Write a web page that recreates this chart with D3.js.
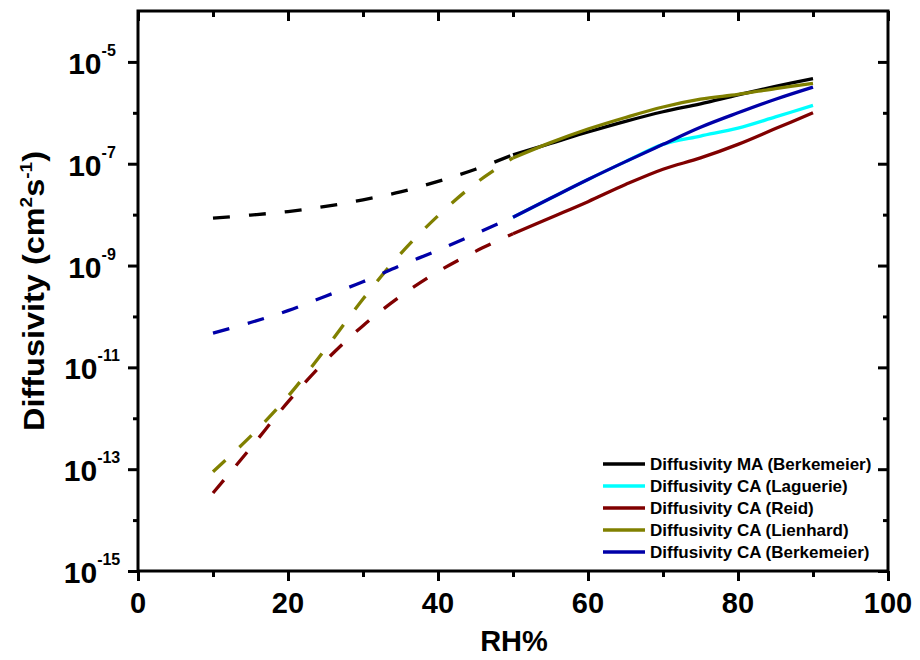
<!DOCTYPE html>
<html><head><meta charset="utf-8">
<script src="https://cdn.jsdelivr.net/npm/d3@7"></script>
<style>
body{margin:0;background:#fff;}
svg{display:block;font-family:"Liberation Sans",Arial,sans-serif;font-weight:bold;}
</style></head>
<body><svg id="c" width="920" height="660"></svg>
<script>
// ---- data ----
const rhDashed = [10,15,20,25,30,35,40,45,50];
const rhSolid  = [50,55,60,65,70,75,80,85,90];

const maBerkDashed = [8.5e-9,9.8e-9,1.15e-8,1.45e-8,1.95e-8,2.8e-8,4.5e-8,7.8e-8,1.5e-7];
const maBerkSolid  = [1.5e-7,2.5e-7,4.2e-7,6.8e-7,1.05e-6,1.5e-6,2.25e-6,3.3e-6,4.7e-6];

const caLaguerieSolid = [8.9e-9,2.1e-8,4.9e-8,1.1e-7,2.4e-7,3.5e-7,5.0e-7,8.3e-7,1.4e-6];

const caReidDashed = [3.4e-14,2.6e-13,2.1e-12,1.35e-11,6.6e-11,2.5e-10,7.6e-10,1.9e-9,4.2e-9];
const caReidSolid  = [4.2e-9,8.7e-9,1.8e-8,3.9e-8,7.8e-8,1.3e-7,2.4e-7,4.9e-7,1.0e-6];

const caLienhardDashed = [8.9e-14,4.4e-13,2.7e-12,2.3e-11,2.2e-10,1.7e-9,9.5e-9,4.1e-8,1.3e-7];
const caLienhardSolid  = [1.3e-7,2.6e-7,4.8e-7,8.1e-7,1.3e-6,1.85e-6,2.3e-6,3.0e-6,3.8e-6];

const caBerkDashed = [4.7e-11,7.6e-11,1.3e-10,2.5e-10,4.8e-10,1.0e-9,2.0e-9,4.2e-9,8.9e-9];
const caBerkSolid  = [8.9e-9,2.1e-8,4.9e-8,1.1e-7,2.4e-7,5.2e-7,1.0e-6,1.85e-6,3.2e-6];

const seriesNames = ["Diffusivity MA (Berkemeier)","Diffusivity CA (Laguerie)","Diffusivity CA (Reid)","Diffusivity CA (Lienhard)","Diffusivity CA (Berkemeier)"];
const seriesColors = ["#000000","#00ffff","#800000","#808000","#0000a8"];
const seriesDashed = [maBerkDashed,null,caReidDashed,caLienhardDashed,caBerkDashed];
const seriesSolid  = [maBerkSolid,caLaguerieSolid,caReidSolid,caLienhardSolid,caBerkSolid];

const xMajor = [0,20,40,60,80,100];
const xMinor = [10,30,50,70,90];
const yMajorExp = [-15,-13,-11,-9,-7,-5];
const yMinorExp = [-14,-12,-10,-8,-6];

// ---- layout ----
const L=138,R=888,T=11,B=571;
const svg=d3.select("#c");
const x=d3.scaleLinear().domain([0,100]).range([L,R]);
const y=d3.scaleLog().domain([1e-15,1e-4]).range([B,T]);

function styleAxis(g){
  g.select(".domain").remove();
  g.selectAll(".tick line").attr("stroke","#000").attr("stroke-width",3);
  g.selectAll(".tick text").remove();
}
svg.append("g").attr("transform",`translate(0,${B})`)
  .call(d3.axisBottom(x).tickValues(xMajor).tickSize(10).tickSizeOuter(0)).call(styleAxis);
svg.append("g").attr("transform",`translate(0,${B})`)
  .call(d3.axisBottom(x).tickValues(xMinor).tickSize(6).tickSizeOuter(0)).call(styleAxis);
svg.append("g").attr("transform",`translate(0,${T})`)
  .call(d3.axisTop(x).tickValues(xMajor).tickSize(-10).tickSizeOuter(0)).call(styleAxis);
svg.append("g").attr("transform",`translate(0,${T})`)
  .call(d3.axisTop(x).tickValues(xMinor).tickSize(-6).tickSizeOuter(0)).call(styleAxis);
const yMajor=yMajorExp.map(e=>Math.pow(10,e));
const yMinor=yMinorExp.map(e=>Math.pow(10,e));
svg.append("g").attr("transform",`translate(${L},0)`)
  .call(d3.axisLeft(y).tickValues(yMajor).tickSize(10).tickSizeOuter(0)).call(styleAxis);
svg.append("g").attr("transform",`translate(${L},0)`)
  .call(d3.axisLeft(y).tickValues(yMinor).tickSize(5).tickSizeOuter(0)).call(styleAxis);
svg.append("g").attr("transform",`translate(${R},0)`)
  .call(d3.axisRight(y).tickValues(yMajor).tickSize(-10).tickSizeOuter(0)).call(styleAxis);
svg.append("g").attr("transform",`translate(${R},0)`)
  .call(d3.axisRight(y).tickValues(yMinor).tickSize(-5).tickSizeOuter(0)).call(styleAxis);

svg.append("rect").attr("x",L).attr("y",T).attr("width",R-L).attr("height",B-T)
  .attr("fill","none").attr("stroke","#000").attr("stroke-width",3);

svg.append("g").selectAll("text").data(xMajor).join("text")
  .attr("x",d=>x(d)).attr("y",613).attr("text-anchor","middle")
  .attr("font-size",29).text(d=>d);
yMajorExp.forEach((e,i)=>{
  const t=svg.append("text").attr("x",92).attr("y",y(yMajor[i])+12)
    .attr("text-anchor","middle").attr("font-size",30);
  t.append("tspan").text("10");
  t.append("tspan").attr("font-size",16).attr("dy",-18).text(String(e));
});

svg.append("text").attr("x",514).attr("y",651).attr("text-anchor","middle")
  .attr("font-size",29).text("RH%");
const yt=svg.append("text").attr("text-anchor","middle").attr("font-size",29)
  .attr("transform",`translate(44,${(T+B)/2}) rotate(-90) scale(1.12,1)`);
yt.append("tspan").text("Diffusivity (cm");
yt.append("tspan").attr("font-size",17).attr("dy",-12).text("2");
yt.append("tspan").attr("dy",12).text("s");
yt.append("tspan").attr("font-size",17).attr("dy",-12).text("-1");
yt.append("tspan").attr("dy",12).text(")");

const line=d3.line().x(d=>x(d[0])).y(d=>y(d[1])).curve(d3.curveCatmullRom.alpha(0.5));
const plot=svg.append("g");
seriesNames.forEach((n,i)=>{
  if(seriesDashed[i]){
    plot.append("path").datum(rhDashed.map((r,j)=>[r,seriesDashed[i][j]]))
      .attr("d",line).attr("fill","none").attr("stroke",seriesColors[i])
      .attr("stroke-width",3.3).attr("stroke-dasharray","17,19");
  }
  plot.append("path").datum(rhSolid.map((r,j)=>[r,seriesSolid[i][j]]))
    .attr("d",line).attr("fill","none").attr("stroke",seriesColors[i])
    .attr("stroke-width",3.3);
});

const lg=svg.append("g");
seriesNames.forEach((n,i)=>{
  const cy=464+i*22;
  lg.append("line").attr("x1",603).attr("x2",645).attr("y1",cy).attr("y2",cy)
    .attr("stroke",seriesColors[i]).attr("stroke-width",3.5);
  lg.append("text").attr("x",650).attr("y",cy+6).attr("font-size",17).text(n);
});
</script></body></html>
